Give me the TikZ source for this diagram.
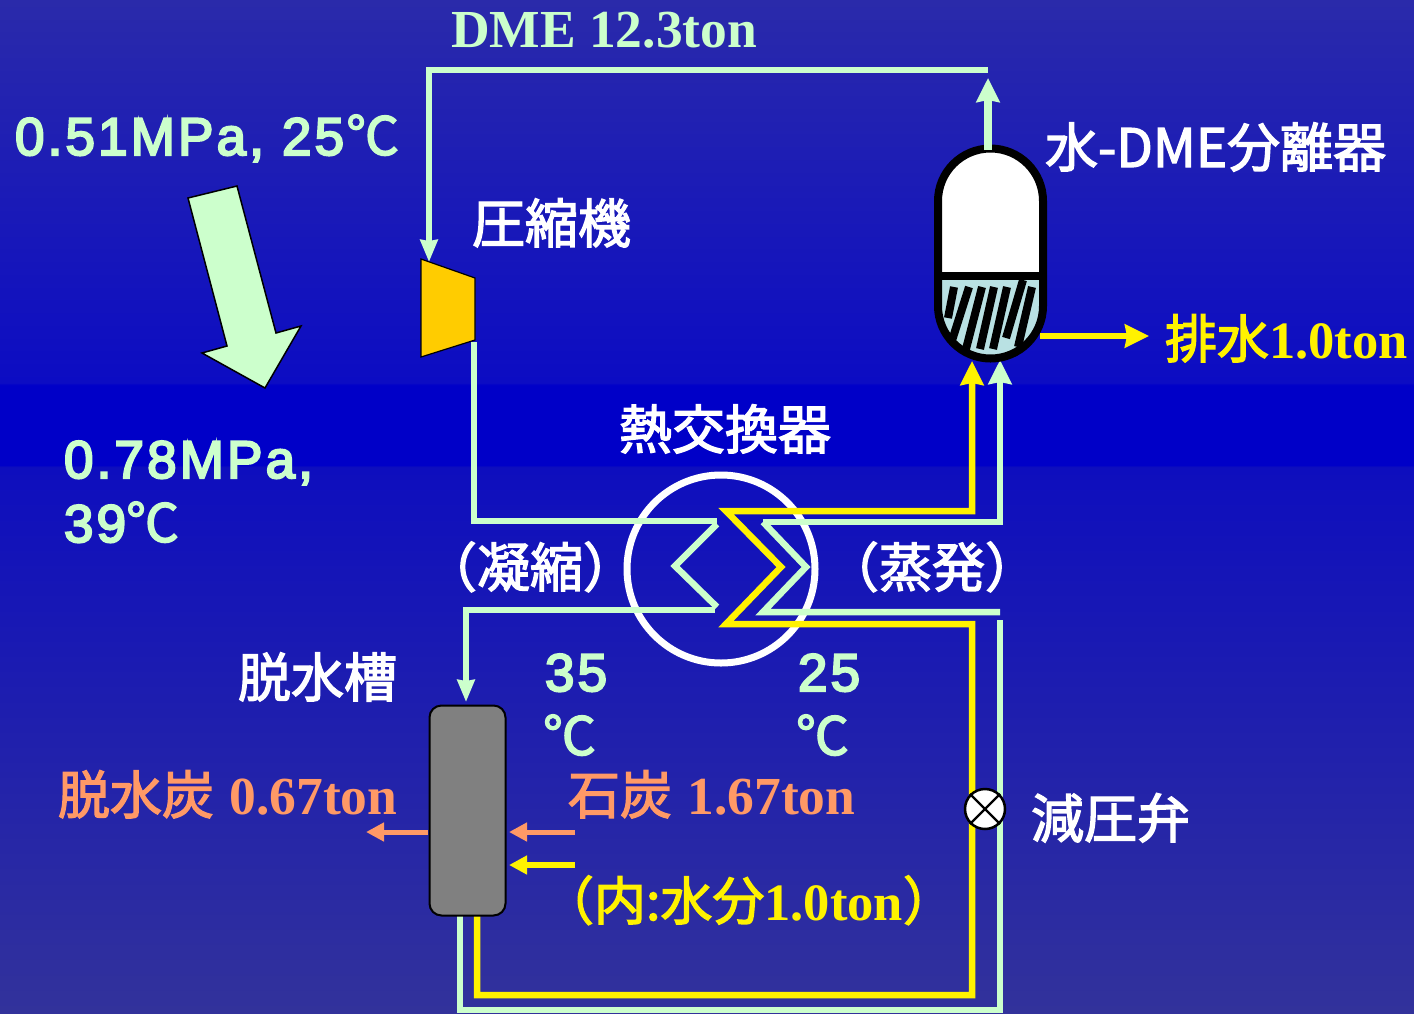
\documentclass[tikz,border=0pt]{standalone}
\usepackage{fontspec}
\usetikzlibrary{arrows.meta,calc}
\setmainfont{Liberation Serif}
\newfontfamily\jpf[FakeBold=2.5]{Noto Sans CJK JP}
\newfontfamily\ssf[FakeBold=4,LetterSpace=6]{Liberation Sans}
\newcommand{\degc}{{\jpf ℃}}
\definecolor{mint}{HTML}{CCFFCC}
\definecolor{peach}{HTML}{FF9966}
\definecolor{gold}{HTML}{FFCC00}
\definecolor{pale}{HTML}{B9E1E3}
\definecolor{bgA}{RGB}{42,42,170}
\definecolor{bgB}{RGB}{0,0,200}
\definecolor{bgC}{RGB}{14,14,190}
\definecolor{bgD}{RGB}{50,50,155}
\definecolor{bgE}{RGB}{12,12,195}
\pgfdeclareverticalshading{bgshade}{100bp}{
 color(0bp)=(bgD); color(25bp)=(bgD); color(51.95bp)=(bgC); color(52.05bp)=(bgB); color(56bp)=(bgB); color(56.1bp)=(bgE); color(75bp)=(bgA); color(100bp)=(bgA)}
\tikzset{
 x=1pt,y=-1pt,
 pipeG/.style={draw=mint,line width=5.5pt},
 pipeY/.style={draw=yellow,line width=6.5pt},
 pipeP/.style={draw=peach,line width=5pt},
 tipG/.style={-{Stealth[width=23pt,length=24pt,inset=2pt]}},
 tipS/.style={-{Stealth[width=17pt,length=22pt,inset=1pt]}},
 tipT/.style={-{Triangle[width=18pt,length=18pt]}},
 txt/.style={inner sep=0pt,outer sep=0pt,anchor=base west},
 serifT/.style={txt,font=\fontsize{53.5}{62}\selectfont\bfseries},
 serifS/.style={txt,font=\fontsize{52.5}{62}\selectfont\bfseries},
 sansT/.style={txt,text=mint,font=\ssf\fontsize{53}{64}\selectfont},
 jpT/.style={txt,text=white,font=\jpf\fontsize{53}{62}\selectfont},
 dummy/.style={inner sep=0pt,minimum size=0pt}
}
\newcommand{\jpin}[1]{{\jpf\mdseries\fontsize{52}{62}\selectfont #1}}
\begin{document}
\begin{tikzpicture}
\useasboundingbox (0,0) rectangle (1414,1013);
\shade[shading=bgshade] (0,0) rectangle (1414,1013);

% big arrow
\filldraw[fill=mint,draw=black,line width=1.5pt,line join=miter] (188,198) -- (237,186) -- (276,333) -- (301,326) -- (265,388) -- (202,353) -- (227,346) -- cycle;

% named points
\coordinate (topL) at (429,70);
\coordinate (topR) at (988,70);
\coordinate (compIn) at (429,262);
\coordinate (sepTop) at (988,150);
\coordinate (sepTopTip) at (988,78);
\coordinate (compOut) at (474,342);
\coordinate (condA) at (474,521);
\coordinate (condB) at (717,521);
\coordinate (condC) at (717,524);
\coordinate (condD) at (675,566);
\coordinate (condE) at (717,607);
\coordinate (condF) at (715,610);
\coordinate (condG) at (466,610);
\coordinate (tankTip) at (466,702);
\coordinate (evA) at (1000,522);
\coordinate (evB) at (763,522);
\coordinate (evC) at (806,567);
\coordinate (evD) at (763,612);
\coordinate (evE) at (1000,612);
\coordinate (evUpTip) at (1000,360);
\coordinate (ylTip) at (972,361);
\coordinate (ylA) at (972,511);
\coordinate (ylB) at (726,511);
\coordinate (ylC) at (781,567);
\coordinate (ylD) at (726,624);
\coordinate (ylE) at (972,624);
\coordinate (ylF) at (972,995);
\coordinate (ylG) at (477,995);
\coordinate (ylH) at (477,916);
\coordinate (grA) at (1000,620);
\coordinate (grB) at (1000,1010);
\coordinate (grC) at (460,1010);
\coordinate (grD) at (460,916);

% heat exchanger circle
\node[circle,draw=white,line width=7pt,fill=none,minimum size=188pt,inner sep=0pt] (hx) at (721,569) {};

% green pipes
\draw[pipeG,tipS] (topR) -- (topL) -- (compIn);
\draw[pipeG] (compOut) -- (condA) -- (condB);
\draw[pipeG,line width=6.5pt] (condC) -- (condD) -- (condE);
\draw[pipeG,tipS] (condF) -- (condG) -- (tankTip);
\draw[pipeG,line width=6.5pt,tipG] (evB) -- (evA) -- (evUpTip);
\draw[pipeG,line width=6.5pt] (evB) -- (evC) -- (evD) -- (evE);
\draw[pipeG] (grD) -- (grC) -- (grB) -- (grA);

% yellow pipes
\draw[pipeY,tipG,miter limit=10] (ylH) -- (ylG) -- (ylF) -- (ylE) -- (ylD) -- (ylC) -- (ylB) -- (ylA) -- (ylTip);

% compressor
\node[dummy] (comp) at (448,308) {};
\filldraw[fill=gold,draw=black,line width=1.2pt] (421,259) -- (475,278) -- (475,340) -- (421,357) -- cycle;

% separator vessel
\def\vessel{(938,201) arc[start angle=180,end angle=360,radius=52.5] -- (1043,306) arc[start angle=0,end angle=180,radius=52.5] -- cycle}
\fill[white] \vessel;
\begin{scope}
\clip \vessel;
\fill[pale] (930,276) rectangle (1050,370);
\foreach \a/\b/\c/\d in {954/287/948/318, 969/287/949/350, 982/287/966/349, 994/287/980/349, 1007/287/993/349, 1023/280/1006/338, 1032/287/1018/347}
  \draw[black,line width=8pt] (\a,\b) -- (\c,\d);
\end{scope}
\draw[black,line width=8pt] (938,276) -- (1043,276);
\draw[black,line width=8pt] \vessel;
\node[dummy] (sep) at (990,254) {};

\draw[pipeG,line width=8pt,tipG] (sepTop) -- (sepTopTip);
\coordinate (drainA) at (1040,336);
\coordinate (drainB) at (1149,336);
\draw[pipeY,tipG] (drainA) -- (drainB);

% dehydration tank
\node[draw=black,fill=black!50,line width=2pt,rounded corners=12pt,minimum width=76pt,minimum height=210pt,inner sep=0pt] (tank) at (467.5,810.5) {};
\coordinate (coalIn) at (575,832);
\coordinate (coalTip) at (509,832);
\coordinate (wetIn) at (575,865);
\coordinate (wetTip) at (509,865);
\coordinate (outA) at (428,832);
\coordinate (outB) at (366,832);
\draw[pipeP,tipT] (coalIn) -- (coalTip);
\draw[pipeY,line width=5.5pt,tipT] (wetIn) -- (wetTip);
\draw[pipeP,tipT] (outA) -- (outB);

% valve
\node[circle,draw=black,fill=white,line width=2.5pt,minimum size=40pt,inner sep=0pt] (valve) at (985,809) {};
\draw[black,line width=2.2pt] (valve.45) -- (valve.225) (valve.135) -- (valve.315);

% texts
\node[serifT,text=mint] (t1) at (451,47) {DME 12.3ton};
\node[sansT] (t2) at (15,155) {0.51MPa, 25\kern2pt\degc};
\node[sansT,align=left] (t3) at (64,542) {0.78MPa,\\39\degc};
\node[sansT,align=left] (t4) at (545,755) {35\\\kern-2pt\degc};
\node[sansT,align=left] (t5) at (798,755) {25\\\kern-2pt\degc};
\node[jpT] (t6) at (472,243) {圧縮機};
\node[jpT] (t7) at (1045,167) {水-DME分離器};
\node[jpT] (t8) at (619,449) {熱交換器};
\node[jpT] (t9) at (424,587) {（凝縮）};
\node[jpT] (t10) at (826,587) {（蒸発）};
\node[jpT] (t11) at (238,697) {脱水槽};
\node[jpT] (t12) at (1031,838) {減圧弁};
\node[serifS,text=yellow] (t13) at (1165,358) {\jpin{排水}1.0ton};
\node[serifT,text=peach] (t14) at (58,814) {\jpin{脱水炭}\kern2pt{} 0.67ton};
\node[serifT,text=peach] (t15) at (568,814) {\jpin{石炭}\kern2pt{} 1.67ton};
\node[serifS,text=yellow] (t16) at (542,920) {\jpin{（内:水分}1.0ton\jpin{）}};
\end{tikzpicture}
\end{document}
